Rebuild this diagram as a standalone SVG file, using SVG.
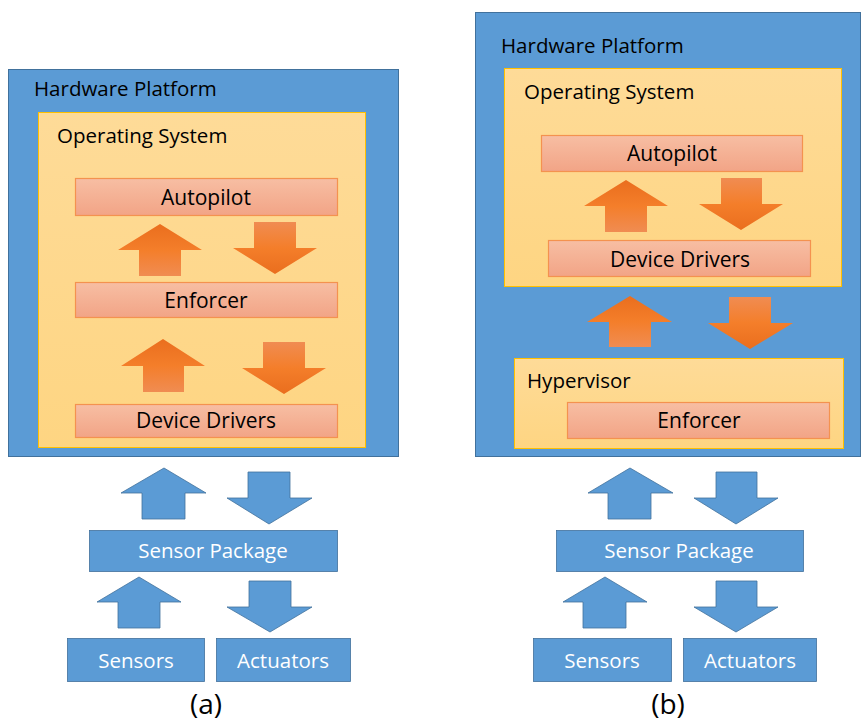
<svg xmlns="http://www.w3.org/2000/svg" width="865" height="725" viewBox="0 0 865 725">
<defs>
<linearGradient id="gOS" x1="0" y1="0" x2="0" y2="1"><stop offset="0" stop-color="#FEDB98"/><stop offset="1" stop-color="#FED582"/></linearGradient>
<linearGradient id="gMod" x1="0" y1="0" x2="0" y2="1"><stop offset="0" stop-color="#F7BEA3"/><stop offset="1" stop-color="#F2A486"/></linearGradient>
<linearGradient id="gUp" x1="0" y1="0" x2="0" y2="1"><stop offset="0" stop-color="#EA6E1E"/><stop offset="0.5" stop-color="#F47E2A"/><stop offset="1" stop-color="#F08C52"/></linearGradient>
<linearGradient id="gDown" x1="0" y1="0" x2="0" y2="1"><stop offset="0" stop-color="#F08C52"/><stop offset="0.5" stop-color="#F47E2A"/><stop offset="1" stop-color="#EA6E1E"/></linearGradient>
</defs>
<style>
.hw{fill:#5B9BD5;stroke:#41719C;stroke-width:1}
.os{fill:url(#gOS);stroke:#FFC000;stroke-width:1}
.mod{fill:url(#gMod);stroke:#F4924F;stroke-width:1.2}
.blue{fill:#5B9BD5;stroke:#41719C;stroke-width:0.8}
.oup{fill:url(#gUp)}
.odn{fill:url(#gDown)}
text{font-family:"Open Sans","Noto Sans","DejaVu Sans",sans-serif;fill:#000}
.t{font-size:20.5px}
.m{font-size:21px;text-anchor:middle}
.w{font-size:20.5px;text-anchor:middle;fill:#fff}
.cap{font-size:28px;text-anchor:middle}
</style>

<!-- Panel (a) -->
<g id="a-hardware"><rect class="hw" x="8.5" y="69.5" width="390" height="387"/><text class="t" x="34" y="96">Hardware Platform</text></g>
<g id="a-os"><rect class="os" x="38.5" y="112.5" width="327" height="335"/><text class="t" x="57" y="143">Operating System</text></g>
<g id="a-autopilot"><rect class="mod" x="75.5" y="178.5" width="262" height="37"/><text class="m" x="206" y="205">Autopilot</text></g>
<g id="a-enforcer"><rect class="mod" x="75.5" y="282.5" width="262" height="35"/><text class="m" x="206" y="308">Enforcer</text></g>
<g id="a-drivers"><rect class="mod" x="75.5" y="404.5" width="262" height="33"/><text class="m" x="206" y="428">Device Drivers</text></g>
<g id="a-sensorpkg"><rect class="blue" x="89.5" y="530.5" width="248" height="41"/><text class="w" x="213" y="558">Sensor Package</text></g>
<g id="a-sensors"><rect class="blue" x="67.5" y="638.5" width="137" height="43"/><text class="w" x="136" y="668">Sensors</text></g>
<g id="a-actuators"><rect class="blue" x="216.5" y="638.5" width="134" height="43"/><text class="w" x="283" y="668">Actuators</text></g>
<g id="a-caption"><text class="cap" x="206" y="714">(a)</text></g>

<!-- Panel (b) -->
<g id="b-hardware"><rect class="hw" x="475.5" y="12.5" width="385" height="444"/><text class="t" x="501" y="53">Hardware Platform</text></g>
<g id="b-os"><rect class="os" x="504.5" y="68.5" width="337" height="218"/><text class="t" x="524" y="99">Operating System</text></g>
<g id="b-autopilot"><rect class="mod" x="541.5" y="135.5" width="261" height="36"/><text class="m" x="672" y="161">Autopilot</text></g>
<g id="b-drivers"><rect class="mod" x="548.5" y="240.5" width="262" height="36"/><text class="m" x="680" y="267">Device Drivers</text></g>
<g id="b-hypervisor"><rect class="os" x="514.5" y="358.5" width="329" height="90"/><text class="t" x="527" y="388">Hypervisor</text></g>
<g id="b-enforcer"><rect class="mod" x="567.5" y="402.5" width="262" height="36"/><text class="m" x="699" y="428">Enforcer</text></g>
<g id="b-sensorpkg"><rect class="blue" x="556.5" y="530.5" width="247" height="41"/><text class="w" x="679" y="558">Sensor Package</text></g>
<g id="b-sensors"><rect class="blue" x="533.5" y="638.5" width="138" height="43"/><text class="w" x="602" y="668">Sensors</text></g>
<g id="b-actuators"><rect class="blue" x="683.5" y="638.5" width="133" height="43"/><text class="w" x="750" y="668">Actuators</text></g>
<g id="b-caption"><text class="cap" x="668" y="714">(b)</text></g>

<g id="connectors">
<!-- (a) orange -->
<polygon class="oup" points="160,224 202,250 181,250 181,276 139,276 139,250 118,250"/>
<polygon class="odn" points="254,222 296,222 296,248 317,248 275,274 233,248 254,248"/>
<polygon class="oup" points="163,339 205,366 184,366 184,392 143,392 143,366 121,366"/>
<polygon class="odn" points="263,342 305,342 305,368 326,368 284,394 242,368 263,368"/>
<!-- (a) blue -->
<polygon class="blue" points="164,468 206,493 185,493 185,519 142,519 142,493 121,493"/>
<polygon class="blue" points="248,472 290,472 290,498 312,498 269,524 227,498 248,498"/>
<polygon class="blue" points="139,577 181,602 160,602 160,628 118,628 118,602 97,602"/>
<polygon class="blue" points="249,581 291,581 291,607 312,607 270,632 227,607 249,607"/>
<!-- (b) orange -->
<polygon class="oup" points="626,180 668,206 647,206 647,232 605,232 605,206 584,206"/>
<polygon class="odn" points="721,178 762,178 762,204 783,204 741,230 699,204 721,204"/>
<polygon class="oup" points="630,296 672,322 651,322 651,347 609,347 609,322 587,322"/>
<polygon class="odn" points="729,297 771,297 771,323 793,323 750,349 708,323 729,323"/>
<!-- (b) blue -->
<polygon class="blue" points="630,468 673,493 651,493 651,519 608,519 608,493 588,493"/>
<polygon class="blue" points="716,472 757,472 757,498 778,498 736,524 694,498 716,498"/>
<polygon class="blue" points="605,577 647,602 626,602 626,628 583,628 583,602 563,602"/>
<polygon class="blue" points="716,581 757,581 757,607 778,607 736,632 694,607 716,607"/>
</g>
</svg>
